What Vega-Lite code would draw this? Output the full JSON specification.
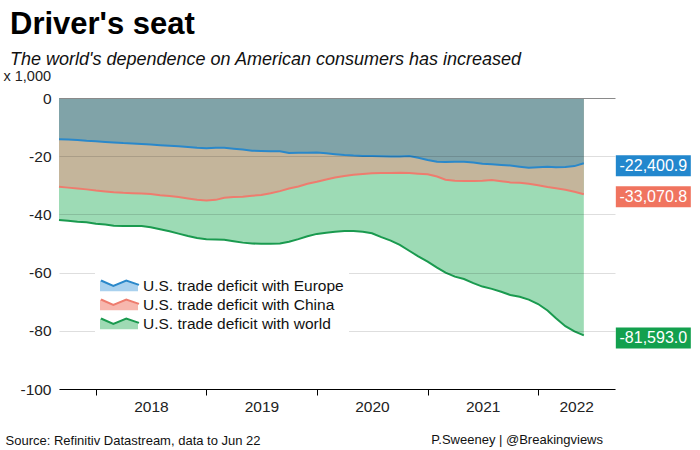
{
  "$schema": "https://vega.github.io/schema/vega-lite/v6.json",
  "width": 556,
  "height": 291,
  "autosize": {"type": "none"},
  "padding": {"left": 59, "top": 98, "right": 85, "bottom": 61},
  "background": "white",
  "config": {
    "font": "Liberation Sans",
    "view": {"stroke": null},
    "locale": {"number": {"decimal": ".", "thousands": ",", "grouping": [3], "currency": ["$", ""], "minus": "-"}}
  },
  "title": {
    "text": "Driver's seat",
    "subtitle": "The world's dependence on American consumers has increased",
    "anchor": "start",
    "frame": "group",
    "dx": -49,
    "dy": 2,
    "font": "Liberation Sans",
    "fontSize": 31,
    "fontWeight": "bold",
    "color": "#000000",
    "subtitleFont": "Liberation Sans",
    "subtitleFontSize": 18,
    "subtitleFontStyle": "italic",
    "subtitleColor": "#111111",
    "subtitlePadding": 10,
    "offset": 0
  },
  "data": {
    "values": [
      {"date": "2017/09/01", "Europe": -14200, "China": -30500, "world": -41900},
      {"date": "2017/10/01", "Europe": -14300, "China": -30800, "world": -42200},
      {"date": "2017/11/01", "Europe": -14400, "China": -31100, "world": -42500},
      {"date": "2017/12/01", "Europe": -14700, "China": -31400, "world": -42700},
      {"date": "2018/01/01", "Europe": -14900, "China": -31800, "world": -43200},
      {"date": "2018/02/01", "Europe": -15100, "China": -32100, "world": -43500},
      {"date": "2018/03/01", "Europe": -15300, "China": -32400, "world": -43900},
      {"date": "2018/04/01", "Europe": -15500, "China": -32600, "world": -44000},
      {"date": "2018/05/01", "Europe": -15600, "China": -32700, "world": -44000},
      {"date": "2018/06/01", "Europe": -15800, "China": -32800, "world": -44000},
      {"date": "2018/07/01", "Europe": -16000, "China": -33000, "world": -44400},
      {"date": "2018/08/01", "Europe": -16200, "China": -33400, "world": -45100},
      {"date": "2018/09/01", "Europe": -16400, "China": -33700, "world": -45800},
      {"date": "2018/10/01", "Europe": -16600, "China": -34000, "world": -46600},
      {"date": "2018/11/01", "Europe": -16800, "China": -34500, "world": -47400},
      {"date": "2018/12/01", "Europe": -17100, "China": -35000, "world": -48100},
      {"date": "2019/01/01", "Europe": -17300, "China": -35200, "world": -48500},
      {"date": "2019/02/01", "Europe": -17100, "China": -35000, "world": -48600},
      {"date": "2019/03/01", "Europe": -17100, "China": -34300, "world": -48700},
      {"date": "2019/04/01", "Europe": -17400, "China": -34000, "world": -49200},
      {"date": "2019/05/01", "Europe": -17700, "China": -33900, "world": -49700},
      {"date": "2019/06/01", "Europe": -18100, "China": -33600, "world": -50000},
      {"date": "2019/07/01", "Europe": -18200, "China": -33300, "world": -50100},
      {"date": "2019/08/01", "Europe": -18300, "China": -32700, "world": -50100},
      {"date": "2019/09/01", "Europe": -18300, "China": -32000, "world": -50000},
      {"date": "2019/10/01", "Europe": -18900, "China": -31100, "world": -49400},
      {"date": "2019/11/01", "Europe": -18800, "China": -30400, "world": -48500},
      {"date": "2019/12/01", "Europe": -18800, "China": -29500, "world": -47500},
      {"date": "2020/01/01", "Europe": -18700, "China": -28800, "world": -46700},
      {"date": "2020/02/01", "Europe": -19000, "China": -28000, "world": -46300},
      {"date": "2020/03/01", "Europe": -19300, "China": -27300, "world": -46000},
      {"date": "2020/04/01", "Europe": -19600, "China": -26800, "world": -45700},
      {"date": "2020/05/01", "Europe": -19800, "China": -26400, "world": -45700},
      {"date": "2020/06/01", "Europe": -19900, "China": -26100, "world": -46000},
      {"date": "2020/07/01", "Europe": -19900, "China": -25900, "world": -46500},
      {"date": "2020/08/01", "Europe": -20000, "China": -25800, "world": -47800},
      {"date": "2020/09/01", "Europe": -20100, "China": -25800, "world": -49000},
      {"date": "2020/10/01", "Europe": -20100, "China": -25700, "world": -50500},
      {"date": "2020/11/01", "Europe": -19900, "China": -25800, "world": -52500},
      {"date": "2020/12/01", "Europe": -20500, "China": -26000, "world": -54400},
      {"date": "2021/01/01", "Europe": -21300, "China": -26200, "world": -56200},
      {"date": "2021/02/01", "Europe": -21900, "China": -27000, "world": -58300},
      {"date": "2021/03/01", "Europe": -22000, "China": -28100, "world": -60000},
      {"date": "2021/04/01", "Europe": -21900, "China": -28400, "world": -61400},
      {"date": "2021/05/01", "Europe": -21900, "China": -28500, "world": -62200},
      {"date": "2021/06/01", "Europe": -22200, "China": -28500, "world": -63600},
      {"date": "2021/07/01", "Europe": -22600, "China": -28400, "world": -64800},
      {"date": "2021/08/01", "Europe": -22800, "China": -28200, "world": -65600},
      {"date": "2021/09/01", "Europe": -23000, "China": -28600, "world": -66600},
      {"date": "2021/10/01", "Europe": -23200, "China": -29000, "world": -67700},
      {"date": "2021/11/01", "Europe": -23600, "China": -29100, "world": -68300},
      {"date": "2021/12/01", "Europe": -24000, "China": -29500, "world": -69300},
      {"date": "2022/01/01", "Europe": -23800, "China": -30000, "world": -70800},
      {"date": "2022/02/01", "Europe": -23600, "China": -30600, "world": -73000},
      {"date": "2022/03/01", "Europe": -23800, "China": -31000, "world": -75700},
      {"date": "2022/04/01", "Europe": -23700, "China": -31500, "world": -78400},
      {"date": "2022/05/01", "Europe": -23400, "China": -32200, "world": -80200},
      {"date": "2022/06/01", "Europe": -22400.9, "China": -33070.8, "world": -81593.0}
    ]
  },
  "transform": [
    {"fold": ["Europe", "China", "world"], "as": ["key", "value"]}
  ],
  "encoding": {
    "x": {
      "field": "date",
      "type": "temporal",
      "scale": {"domain": [{"year": 2017, "month": 9, "date": 1}, {"year": 2022, "month": 9, "date": 12}], "nice": false},
      "axis": {
        "title": "Source: Refinitiv Datastream, data to Jun 22",
        "titleX": -54,
        "titleY": 55,
        "titleAlign": "left",
        "titleAnchor": "start",
        "titleBaseline": "alphabetic",
        "titleFontSize": 13,
        "titleFontWeight": "normal",
        "titleColor": "#111111",
        "tickCount": {"interval": "year", "step": 1},
        "format": "%Y",
        "labelOffset": {"condition": {"test": "year(datum.value) == 2022", "value": 38}, "value": 55},
        "labelOverlap": false,
        "labelFlush": false,
        "labelBound": false,
        "labelFontSize": 15.5,
        "labelColor": "#222222",
        "labelPadding": 4,
        "grid": false,
        "domainColor": "#000000",
        "domainWidth": 1,
        "tickColor": "#000000",
        "tickSize": 6
      }
    },
    "y": {
      "field": "value",
      "type": "quantitative",
      "scale": {"domain": [-100000, 0], "nice": false},
      "axis": {
        "title": "x 1,000",
        "titleAngle": 0,
        "titleX": -56,
        "titleY": -18,
        "titleAlign": "left",
        "titleBaseline": "alphabetic",
        "titleFontSize": 14.5,
        "titleFontWeight": "normal",
        "titleColor": "#222222",
        "values": [-100000, -80000, -60000, -40000, -20000, 0],
        "labelExpr": "'' + (datum.value / 1000)",
        "labelFontSize": 15.5,
        "labelColor": "#222222",
        "labelPadding": 8,
        "ticks": false,
        "tickSize": 0,
        "domain": false,
        "grid": true,
        "gridColor": {"condition": {"test": "datum.value === 0", "value": "#8a8a8a"}, "value": "#000000"},
        "gridOpacity": {"condition": {"test": "datum.value === 0", "value": 1}, "value": 0.13},
        "zindex": 1
      }
    }
  },
  "layer": [
    {
      "transform": [{"filter": "datum.key === 'world'"}],
      "mark": {"type": "area", "fill": "#9DDBB5", "opacity": 1}
    },
    {
      "transform": [{"filter": "datum.key === 'China'"}],
      "mark": {"type": "area", "fill": "#C4B59B", "opacity": 1}
    },
    {
      "transform": [{"filter": "datum.key === 'Europe'"}],
      "mark": {"type": "area", "fill": "#80A3A8", "opacity": 1}
    },
    {
      "transform": [{"filter": "datum.value < 0"}],
      "mark": {"type": "area", "opacity": 0},
      "encoding": {
        "y": {"field": "value", "type": "quantitative", "stack": null},
        "fill": {
          "field": "key",
          "type": "nominal",
          "scale": {"domain": ["Europe", "China", "world"], "range": ["#A9D1EE", "#F7B7AE", "#9FDAB4"]},
          "legend": {
            "title": null,
            "orient": "none",
            "legendX": 36,
            "legendY": 173.5,
            "fillColor": "white",
            "padding": 5,
            "symbolType": "M-1,-0.28L-0.35,0L0.33,-0.28L1,-0.05L1,0.28L-1,0.28Z",
            "symbolSize": 1444,
            "symbolStrokeWidth": 0,
            "symbolOpacity": 1,
            "labelFont": "Liberation Sans",
            "labelFontSize": 15.5,
            "labelColor": "#111111",
            "labelLimit": 400,
            "labelExpr": "'U.S. trade deficit with ' + datum.label",
            "clipHeight": 18.7,
            "rowPadding": 0,
            "labelOffset": 5,
            "zindex": 2
          }
        }
      }
    },
    {
      "mark": {"type": "line", "strokeWidth": 2},
      "encoding": {
        "stroke": {
          "field": "key",
          "type": "nominal",
          "sort": ["Europe", "China", "world"],
          "scale": {"range": ["#2A88CA", "#EE7C6E", "#1A9A4F"]},
          "legend": {
            "title": null,
            "orient": "none",
            "legendX": 36,
            "legendY": 173.5,
            "padding": 5,
            "symbolType": "M-1,-0.28L-0.35,0L0.33,-0.28L1,-0.05",
            "symbolSize": 1444,
            "symbolStrokeWidth": 2,
            "symbolFillColor": "transparent",
            "labelFont": "Liberation Sans",
            "labelFontSize": 15.5,
            "labelOpacity": 0,
            "labelExpr": "''",
            "clipHeight": 18.7,
            "rowPadding": 0,
            "labelOffset": 5,
            "zindex": 3
          }
        }
      }
    },
    {
      "transform": [{"filter": "year(datum.date) == 2022 && month(datum.date) == 5"}],
      "mark": {"type": "point", "shape": "M-1,-0.28L1,-0.28L1,0.28L-1,0.28Z", "size": 5625, "filled": true, "opacity": 1, "strokeWidth": 0, "xOffset": 69.5, "yOffset": 2.5},
      "encoding": {
        "fill": {
          "condition": [
            {"test": "datum.key === 'Europe'", "value": "#2287CD"},
            {"test": "datum.key === 'China'", "value": "#F0745F"}
          ],
          "value": "#13A04E"
        }
      }
    },
    {
      "transform": [{"filter": "year(datum.date) == 2022 && month(datum.date) == 5"}],
      "mark": {"type": "text", "color": "white", "fontSize": 16, "align": "center", "baseline": "middle", "dx": 69.5, "dy": 3},
      "encoding": {
        "text": {"field": "value", "type": "quantitative", "format": ",.1f"}
      }
    },
    {
      "transform": [{"filter": "datum.key === 'world' && year(datum.date) == 2022 && month(datum.date) == 5"}],
      "mark": {"type": "text", "text": "P.Sweeney | @Breakingviews", "align": "right", "baseline": "alphabetic", "dx": -12, "dy": 55, "fontSize": 13, "color": "#111111"},
      "encoding": {
        "x": {"datum": {"year": 2022, "month": 9, "date": 12}, "type": "temporal"},
        "y": {"datum": -100000, "type": "quantitative"}
      }
    }
  ]
}
